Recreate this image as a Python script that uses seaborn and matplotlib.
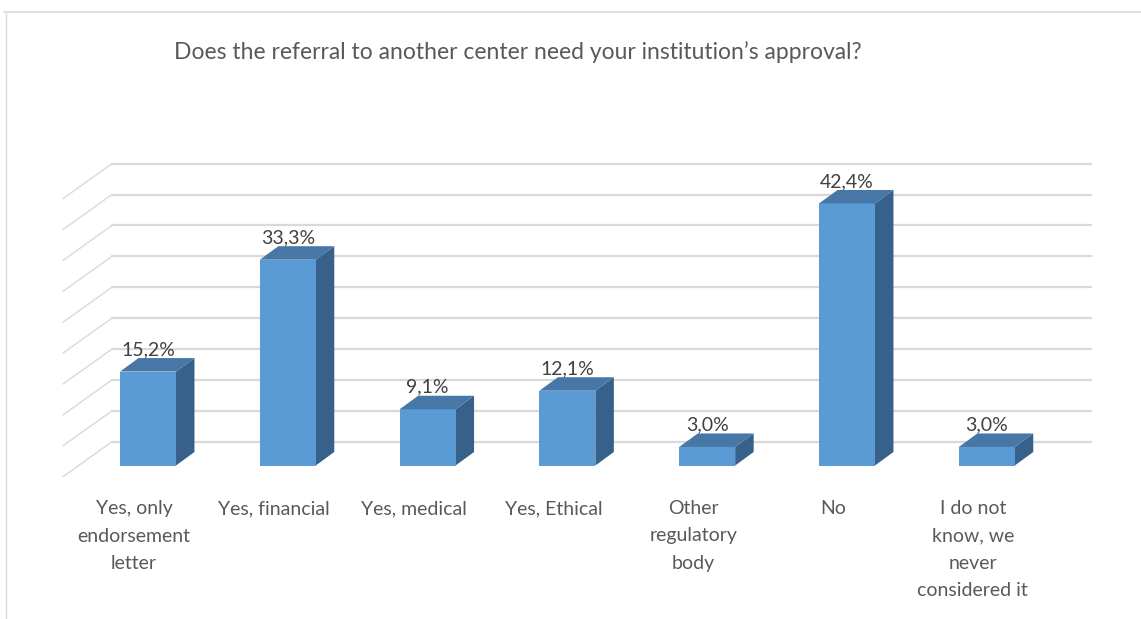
import matplotlib
matplotlib.use("Agg")
import matplotlib.pyplot as plt
from matplotlib.lines import Line2D
from matplotlib.patches import Polygon
import seaborn as sns
import pandas as pd

categories = ["Yes, only\nendorsement\nletter", "Yes, financial", "Yes, medical",
              "Yes, Ethical", "Other\nregulatory\nbody", "No",
              "I do not\nknow, we\nnever\nconsidered it"]
values = [15.2, 33.3, 9.1, 12.1, 3.0, 42.4, 3.0]
labels = ["15,2%", "33,3%", "9,1%", "12,1%", "3,0%", "42,4%", "3,0%"]
ticks = [0, 5, 10, 15, 20, 25, 30, 35, 40, 45]
title = "Does the referral to another center need your institution\u2019s approval?"

front = "#5b9bd5"
top_c = "#4677a6"
side_c = "#37618a"
grid_c = "#d9d9d9"
text_c = "#404040"

W, H = 1141, 619
# pixel scale of the data axes
PX_X = 139.8   # px per category
PX_Y = 6.18    # px per percent
X0, Y0 = 148, 465.5

sns.set_theme(style="white")
plt.rcParams['font.family'] = ['Lato', 'DejaVu Sans']

fig = plt.figure(figsize=(W / 100, H / 100), dpi=100)
ax = fig.add_axes([0, 0, 1, 1])

df = pd.DataFrame({"cat": categories, "val": values})
sns.barplot(data=df, x="cat", y="val", color=front, width=0.4, saturation=1,
            linewidth=0, ax=ax, zorder=3)

ax.set_xlim(-X0 / PX_X, (W - X0) / PX_X)
ax.set_ylim((Y0 - H) / PX_Y, Y0 / PX_Y)
ax.axis("off")

# back wall gridlines with depth diagonals
wall_dy = (Y0 - 441.7) / PX_Y
wall_x0 = (112 - X0) / PX_X
wall_x1 = (1091 - X0) / PX_X
diag_x = (63 - X0) / PX_X
diag_dy = 35 / PX_Y
for t in ticks:
    y = t + wall_dy
    ax.plot([wall_x0, wall_x1], [y, y], color=grid_c, lw=1.6, zorder=1)
    ax.plot([diag_x, wall_x0], [y - diag_dy, y], color=grid_c, lw=1.0, zorder=1)

# 3d side and top faces
dx = 18.5 / PX_X
dy = 13.5 / PX_Y
hw = 0.2
for i, v in enumerate(values):
    xr = i + hw
    ax.add_patch(Polygon([(xr, 0), (xr + dx, dy), (xr + dx, v + dy), (xr, v)],
                         closed=True, fc=side_c, ec="none", zorder=2))
    ax.add_patch(Polygon([(i - hw, v), (xr, v), (xr + dx, v + dy), (i - hw + dx, v + dy)],
                         closed=True, fc=top_c, ec="none", zorder=3))
    ax.text(i, v + 22 / PX_Y, labels[i], ha="center", va="center",
            fontsize=14, color=text_c, zorder=4)

# category labels
for i, c in enumerate(categories):
    ax.text(i - 14 / PX_X, (Y0 - 500) / PX_Y, c, ha="center", va="top",
            fontsize=14, color="#595959", linespacing=1.75)

fig.text(518 / W, 1 - 52 / H, title, ha="center", va="center",
         fontsize=16.5, color="#595959")

# chart border (top and left only visible)
fig.add_artist(Line2D([4 / W, 1], [1 - 12 / H, 1 - 12 / H], color=grid_c, lw=1.2))
fig.add_artist(Line2D([6 / W, 6 / W], [0, 1 - 12 / H], color=grid_c, lw=1.0))

fig.savefig("out.png", dpi=100)
